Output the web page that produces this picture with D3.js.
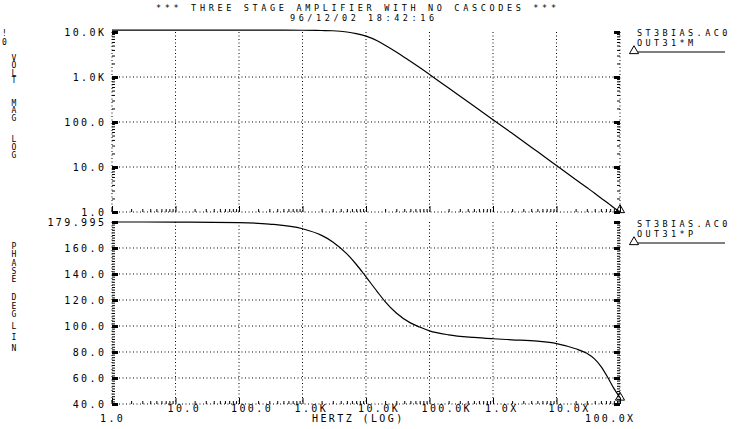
<!DOCTYPE html>
<html>
<head>
<meta charset="utf-8">
<script src="https://cdn.jsdelivr.net/npm/d3@7"></script>
<style>
	body { margin: 0; background: #fff; }
	text { font-family: "DejaVu Sans Mono", monospace; font-size: 10px; fill: #000; letter-spacing: 2.4px; }
	.vert { writing-mode: vertical-lr; text-orientation: upright; font-size: 8px; }
	.small { font-size: 8.5px; letter-spacing: 3.4px; }
</style>
</head>
<body>
<svg id="chart" width="751" height="429"></svg>
<script>
// values
var freq = [1, 10, 100, 300, 1e3, 2e3, 3e3, 5e3, 7e3, 1e4, 1.5e4, 2e4, 3e4, 5e4, 7e4, 1e5, 2e5, 5e5, 1e6, 2e6, 5e6, 1e7, 2e7, 3e7, 4e7, 5e7, 6.5e7, 8e7, 1e8]
var voltMag = [11000, 11000, 11000, 11000, 10950, 10800, 10650, 10000, 9200, 8100, 6400, 5100, 3600, 2230, 1620, 1140, 570, 228, 112, 56, 22, 10.8, 5.3, 3.5, 2.6, 2.05, 1.57, 1.24, 1.0]
var phaseDeg = [179.995, 179.95, 179.5, 178.4, 174.8, 169.7, 164.7, 155.5, 147.5, 137.8, 126.5, 118.8, 110, 102.4, 99.2, 96.3, 93.2, 91.2, 90.2, 89.4, 88.3, 86.5, 82.5, 79, 74.5, 69, 60, 52, 45]

var freqTicks = [1, 10, 100, 1e3, 1e4, 1e5, 1e6, 1e7, 1e8]
var freqLabels = ["1.0", "10.0", "100.0", "1.0K", "10.0K", "100.0K", "1.0X", "10.0X", "100.0X"]
var magTicks = [1, 10, 100, 1e3, 1e4]
var magLabels = ["1.0", "10.0", "100.0", "1.0K", "10.0K"]
var phaseTicks = [179.995, 160, 140, 120, 100, 80, 60, 40]
var phaseLabels = ["179.995", "160.0", "140.0", "120.0", "100.0", "80.0", "60.0", "40.0"]

var title = "*** THREE STAGE AMPLIFIER WITH NO CASCODES ***"
var stamp = "96/12/02 18:42:16"
var magLegend = ["ST3BIAS.AC0", "OUT31*M"]
var phaseLegend = ["ST3BIAS.AC0", "OUT31*P"]
var magTitle = ["VOLT", "MAG", "LOG"]
var phaseTitle = ["PHASE", "DEG", "LIN"]

var left = 112, right = 620
var ls = 2.4

var svg = d3.select("#chart")

var x = d3.scaleLog().domain([1, 1e8]).range([left, right])
var yMag = d3.scaleLog().domain([1, 1e4]).range([212, 32])
var yPh = d3.scaleLinear().domain([40, 179.995]).range([404, 222])

// minor tick values
function logMinor(lo, hi) {
	var out = []
	for (var d = lo; d < hi; d *= 10)
		for (var k = 2; k < 10; k++) out.push(d * k)
	return out
}
var xMinor = logMinor(1, 1e8)
var magMinor = logMinor(1, 1e4)
var phMinor = d3.range(42, 180, 2).filter(function (v) { return v % 20 != 0 })

// title
svg.append("text").attr("class", "small").attr("x", 356).attr("y", 10.5).attr("text-anchor", "middle")
	.attr("textLength", 400).attr("lengthAdjust", "spacing").style("letter-spacing", "0px").text(title)
svg.append("text").attr("class", "small").attr("x", 362).attr("y", 20.5).attr("text-anchor", "middle")
	.attr("textLength", 144).attr("lengthAdjust", "spacing").style("letter-spacing", "0px").text(stamp)

svg.append("text").attr("x", 2).attr("y", 36).style("font-size", "8px").text("!")
svg.append("text").attr("x", 2).attr("y", 45).style("font-size", "8px").text("0")

// stacked axis titles (top of word, letter step)
function stacked(word, y0, step) {
	svg.append("text").attr("class", "vert").attr("x", 14).attr("y", y0)
		.style("letter-spacing", (step - 8) + "px").text(word)
}
stacked(magTitle[0], 54, 6.3)
stacked(magTitle[1], 99, 6.3)
stacked(magTitle[2], 135, 7)
stacked(phaseTitle[0], 242, 7.3)
stacked(phaseTitle[1], 293, 7.5)
stacked(phaseTitle[2], 322, 10)

function dotted(sel) {
	return sel.attr("stroke", "#000").attr("stroke-width", 1).attr("stroke-dasharray", "1,2.5")
}

function panel(y, ticks, labels, minor, top, bottom) {
	var g = svg.append("g")

	// grid
	ticks.forEach(function (t, i) {
		if (y(t) > top + 1 && y(t) < bottom - 1)
			dotted(g.append("line").attr("x1", left).attr("x2", right).attr("y1", y(t)).attr("y2", y(t)))
	})
	freqTicks.slice(1, -1).forEach(function (f) {
		dotted(g.append("line").attr("x1", x(f)).attr("x2", x(f)).attr("y1", top).attr("y2", bottom))
	})

	// frame edges
	dotted(g.append("line").attr("x1", left).attr("x2", left).attr("y1", top).attr("y2", bottom))
	dotted(g.append("line").attr("x1", right).attr("x2", right).attr("y1", top).attr("y2", bottom))
	dotted(g.append("line").attr("x1", left).attr("x2", right).attr("y1", bottom).attr("y2", bottom))
	g.append("path").attr("d", "M" + left + "," + (bottom - 4) + "V" + bottom + "H" + (left + 6))
		.attr("fill", "none").attr("stroke", "#000")

	// ticks left / right
	g.append("g").attr("transform", "translate(" + left + ",0)")
		.call(d3.axisRight(y).tickValues(minor).tickSize(3).tickFormat(""))
	var lM = g.append("g").attr("transform", "translate(" + left + ",0)")
		.call(d3.axisRight(y).tickValues(ticks).tickSize(6).tickFormat(""))
	g.append("g").attr("transform", "translate(" + right + ",0)")
		.call(d3.axisLeft(y).tickValues(minor).tickSize(3).tickFormat(""))
	var rM = g.append("g").attr("transform", "translate(" + right + ",0)")
		.call(d3.axisLeft(y).tickValues(ticks).tickSize(6).tickFormat(""))
	lM.selectAll("line").attr("stroke-width", 3)
	rM.selectAll("line").attr("stroke-width", 3)

	// ticks bottom
	g.append("g").attr("transform", "translate(0," + bottom + ")")
		.call(d3.axisTop(x).tickValues(xMinor).tickSize(3).tickFormat(""))
	g.append("g").attr("transform", "translate(0," + bottom + ")")
		.call(d3.axisTop(x).tickValues(freqTicks).tickSize(6).tickFormat(""))

	g.selectAll(".domain").remove()
	g.selectAll(".tick line").attr("stroke", "#000")

	// y labels
	ticks.forEach(function (t, i) {
		g.append("text").attr("x", 104 + ls).attr("y", y(t) + 4).attr("text-anchor", "end").text(labels[i])
	})
}

panel(yMag, magTicks, magLabels, magMinor, 32, 212)
panel(yPh, phaseTicks, phaseLabels, phMinor, 222, 404)

// x labels
freqTicks.forEach(function (f, i) {
	if (i == 0)
		svg.append("text").attr("x", x(f) - 12).attr("y", 422).text(freqLabels[i])
	else if (i == freqTicks.length - 1)
		svg.append("text").attr("x", x(f) - 35).attr("y", 422).text(freqLabels[i])
	else
		svg.append("text").attr("x", x(f) - 8).attr("y", 412).text(freqLabels[i])
})
svg.append("text").attr("x", 312).attr("y", 422).text("HERTZ (LOG)")

// curves
var magLine = d3.line()
	.x(function (d, i) { return x(freq[i]) })
	.y(function (d) { return yMag(d) })
	.curve(d3.curveMonotoneX)
var phLine = d3.line()
	.x(function (d, i) { return x(freq[i]) })
	.y(function (d) { return yPh(d) })
	.curve(d3.curveMonotoneX)

svg.append("path").datum(voltMag).attr("d", magLine)
	.attr("fill", "none").attr("stroke", "#000").attr("stroke-width", 1.2)
svg.append("path").datum(phaseDeg).attr("d", phLine)
	.attr("fill", "none").attr("stroke", "#000").attr("stroke-width", 1.2)

var tri = d3.symbol().type(d3.symbolTriangle).size(36)
function marker(px, py) {
	svg.append("path").attr("d", tri()).attr("transform", "translate(" + px + "," + py + ")")
		.attr("fill", "none").attr("stroke", "#000")
}
marker(x(freq[freq.length - 1]), yMag(voltMag[voltMag.length - 1]) - 2)
marker(x(freq[freq.length - 1]), yPh(phaseDeg[phaseDeg.length - 1]))

// legends
function legend(lines, y0) {
	svg.append("text").attr("class", "small").attr("x", 637).attr("y", y0).text(lines[0])
	svg.append("text").attr("class", "small").attr("x", 637).attr("y", y0 + 10).text(lines[1])
	marker(634, y0 + 15)
	svg.append("line").attr("x1", 638).attr("x2", 725).attr("y1", y0 + 16).attr("y2", y0 + 16)
		.attr("stroke", "#000")
}
legend(magLegend, 36)
legend(phaseLegend, 227)
</script>
</body>
</html>
